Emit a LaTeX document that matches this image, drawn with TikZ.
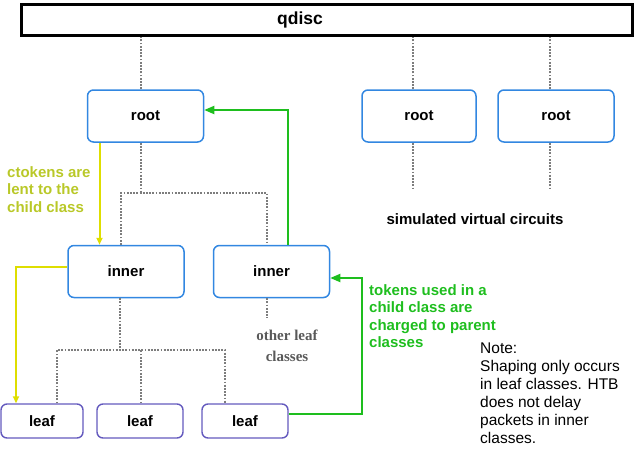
\documentclass[tikz,border=0pt]{standalone}
\usepackage{fontspec}
\setmainfont{Liberation Sans}
\newfontfamily\serifface{Liberation Serif}
\usetikzlibrary{arrows.meta}
\definecolor{boxblue}{RGB}{50,135,225}
\definecolor{leafpurple}{RGB}{100,90,190}
\definecolor{tokgreen}{RGB}{30,190,30}
\definecolor{lendyellow}{RGB}{222,222,0}
\definecolor{lendtext}{RGB}{185,200,40}
\definecolor{dotgray}{RGB}{125,125,125}
\begin{document}
\begin{tikzpicture}[x=1pt,y=-1pt,
    font=\fontsize{15}{17.5}\selectfont\bfseries,
    classbox/.style={draw=boxblue,line width=1.5pt,rounded corners=6pt,fill=white,minimum width=116pt,minimum height=52pt},
    leafbox/.style={draw=leafpurple,line width=1.4pt,rounded corners=6pt,fill=white,minimum width=84pt,minimum height=34pt},
    tree/.style={dotgray,line width=2pt,dash pattern=on 1.8pt off 1.4pt},
    lend/.style={lendyellow,line width=2pt,-{Triangle[length=7pt,width=6pt]}},
    charge/.style={tokgreen,line width=1.8pt,-{Triangle[length=10pt,width=8pt]}}]
    \useasboundingbox (0,0) rectangle (635,459);

    \node[draw,line width=2.2pt,minimum width=611pt,minimum height=31pt,inner sep=0pt] (qdisc) at (327,20) {};
    \node[font=\fontsize{17.5}{20}\selectfont\bfseries] (qlabel) at (300,20) {qdisc};

    \node[classbox] (root1) at (145.5,116) {root};
    \node[classbox,minimum width=114pt] (root2) at (419,116) {root};
    \node[classbox] (root3) at (556,116) {root};
    \node[classbox] (inner1) at (126,271.5) {inner};
    \node[classbox] (inner2) at (271.5,271.5) {inner};
    \node[leafbox,minimum width=82pt] (leaf1) at (42,421) {leaf};
    \node[leafbox,minimum width=86pt] (leaf2) at (140,421) {leaf};
    \node[leafbox,minimum width=86pt] (leaf3) at (245,421) {leaf};

    \coordinate (j1) at (141,193);
    \coordinate (j2) at (120,350);
    \coordinate (v2) at (413,190);
    \coordinate (v3) at (550,190);
    \coordinate (o) at (267,318);
    \coordinate (gx) at (362,278);

    \draw[tree] ([xshift=-4.5pt]root1.north) -- ([xshift=-4.5pt]root1.north |- qdisc.south);
    \draw[tree] ([xshift=-6pt]root2.north) -- ([xshift=-6pt]root2.north |- qdisc.south);
    \draw[tree] ([xshift=-6pt]root3.north) -- ([xshift=-6pt]root3.north |- qdisc.south);
    \draw[tree] ([xshift=-6pt]root2.south) -- (v2);
    \draw[tree] ([xshift=-6pt]root3.south) -- (v3);
    \draw[tree] ([xshift=-4.5pt]root1.south) -- (j1);
    \draw[tree] ([xshift=-5pt]inner1.north) |- (j1) -| ([xshift=-4.5pt]inner2.north);
    \draw[tree] ([xshift=-6pt]inner1.south) -- (j2);
    \draw[tree] ([xshift=15pt]leaf1.north) |- (j2) -| ([xshift=-20pt]leaf3.north);
    \draw[tree] ([xshift=1pt]leaf2.north) -- ([xshift=1pt]leaf2.north |- j2);
    \draw[tree] ([xshift=-4.5pt]inner2.south) -- (o);

    \draw[lend] ([xshift=-46pt]root1.south) -- ([xshift=-46pt]root1.south |- inner1.north);
    \draw[lend] ([yshift=4.5pt]inner1.west) -| ([xshift=-26pt]leaf1.north);
    \draw[charge] (inner2.north -| gx) ++(-74,0) |- ([yshift=6pt]root1.east);
    \draw[charge] ([yshift=7pt]leaf3.east) -| (gx) -- (gx -| inner2.east);

    \node[lendtext,anchor=north west,align=left,inner sep=0pt] (lendnote) at (7,166) {ctokens are\\lent to the\\child class};
    \node[tokgreen,anchor=north west,align=left,inner sep=0pt] (chargenote) at (369,284) {tokens used in a\\child class are\\charged to parent\\classes};
    \node[anchor=north west,align=left,inner sep=0pt,font=\fontsize{15.5}{18}\selectfont] (note) at (480,343) {Note:\\Shaping only occurs\\in leaf classes. HTB\\does not delay\\packets in inner\\classes.};
    \node (sim) at (475,219) {simulated virtual circuits};
    \node[align=center,inner sep=0pt,text=black!65,font=\fontsize{15}{21}\selectfont\serifface\bfseries] (others) at (287,346) {other leaf\\classes};
\end{tikzpicture}
\end{document}
